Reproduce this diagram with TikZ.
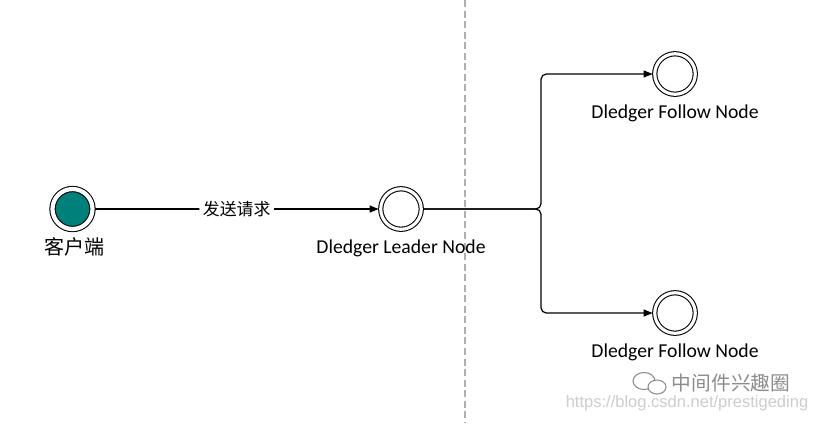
\documentclass[tikz,border=0pt]{standalone}
\usepackage{fontspec}
\setmainfont{Carlito}
\newfontfamily\cjk{Noto Sans CJK SC}
\newfontfamily\urlfont{Liberation Sans}
\usepackage{tikz}
\usetikzlibrary{positioning,arrows.meta}
\usepackage{xcolor}

\begin{document}
\begin{tikzpicture}[every node/.style={font=\fontsize{5.6pt}{6.7pt}\selectfont}, >={Triangle[length=2.6pt,width=2pt]}]
		% Define colors
		\definecolor{clientteal}{RGB}{0, 128, 122}
		\definecolor{splitgray}{RGB}{175, 175, 175}
		\definecolor{markgray}{RGB}{140, 140, 140}
		\definecolor{urlgray}{RGB}{205, 205, 205}

		% Styles
		\tikzstyle{state_node} = [circle, draw=black, line width=0.3pt, double=white, double distance=0.9pt, fill=white, minimum size=0.405cm, inner sep=0pt, outer sep=0.6pt]
		\tikzstyle{client_node} = [state_node, fill=clientteal, double distance=1.2pt, minimum size=0.4cm]
		\tikzstyle{node_label} = [inner sep=0pt, align=center]
		\tikzstyle{conn} = [->, draw=black, line width=0.35pt, rounded corners=1.5pt]
		\tikzstyle{req_label} = [fill=white, inner sep=1pt, font=\cjk\fontsize{4.8pt}{5.8pt}\selectfont]

		% Canvas
		\useasboundingbox[fill=white] (0, 0) rectangle (8.18, 4.23);

		% Cluster boundary
		\draw[splitgray, line width=0.35pt, dash pattern=on 2pt off 1pt] (4.65, 4.23) -- (4.65, 0);

		% State circles
		\node[client_node] (client) at (0.725, 2.14) {};
		\node[state_node] (leader) at (4.01, 2.14) {};
		\node[state_node] (follow1) at (6.75, 3.49) {};
		\node[state_node] (follow2) at (6.75, 1.10) {};

		% Labels under the circles
		\node[node_label, font=\cjk\fontsize{5.7pt}{6.8pt}\selectfont, below=0.06cm of client, xshift=0.02cm] (clientlbl) {客户端};
		\node[node_label, below=0.08cm of leader] (leaderlbl) {Dledger Leader Node};
		\node[node_label, below=0.08cm of follow1] (follow1lbl) {Dledger Follow Node};
		\node[node_label, below=0.08cm of follow2] (follow2lbl) {Dledger Follow Node};

		% Request and replication
		\coordinate (split) at (5.41, 2.14);
		\draw[conn] (client) -- node[req_label] (req) {发送请求} (leader);
		\draw[conn] (leader) -- (split) |- (follow1);
		\draw[conn] (leader) -- (split) |- (follow2);

		% Watermark
		\draw[markgray, line width=0.3pt, fill=white] (6.44, 0.42) ellipse (0.11 and 0.085);
		\draw[markgray, line width=0.3pt, fill=white] (6.57, 0.36) ellipse (0.09 and 0.07);
		\node[text=markgray, font=\cjk\fontsize{5.6pt}{6.7pt}\selectfont] (mark) at (7.31, 0.40) {中间件兴趣圈};
		\node[text=urlgray, font=\urlfont\fontsize{4.7pt}{5.6pt}\selectfont] (url) at (6.87, 0.20) {https://blog.csdn.net/prestigeding};

	\end{tikzpicture}
\end{document}
